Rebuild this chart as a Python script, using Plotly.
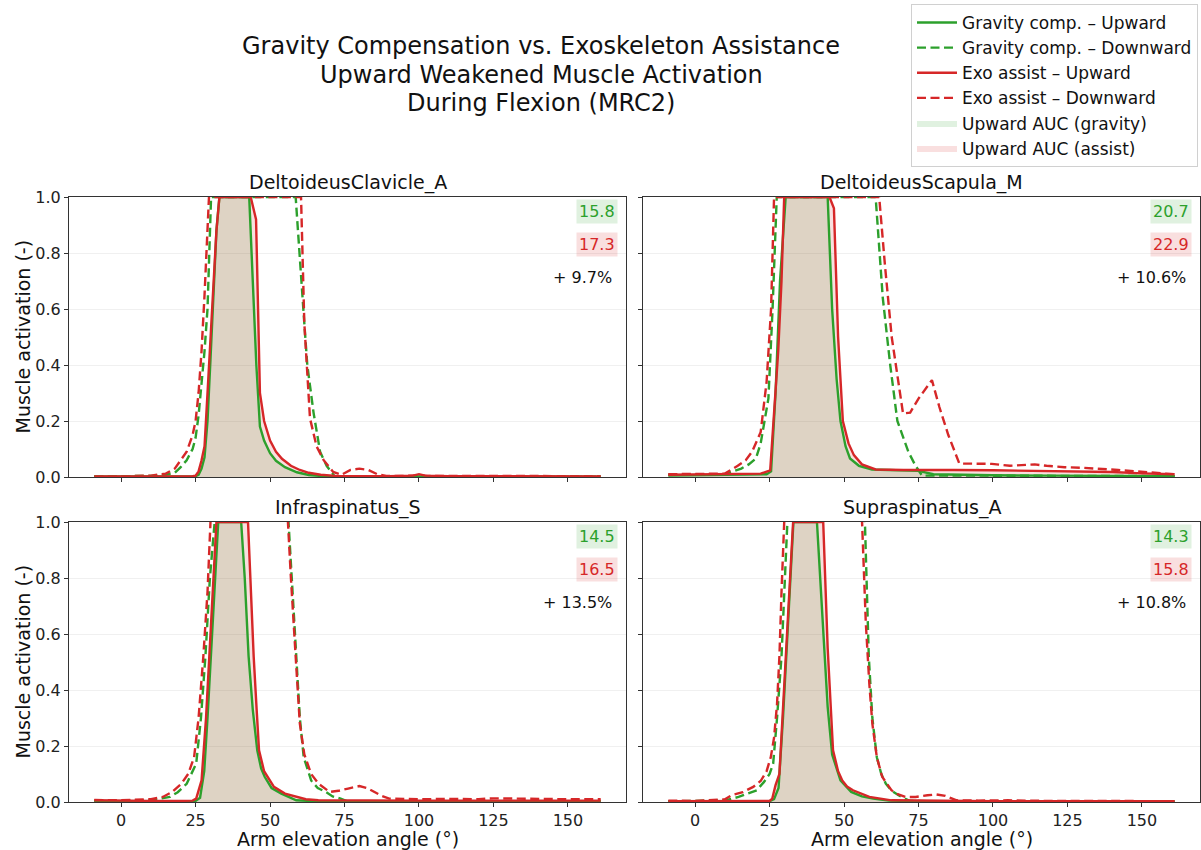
import plotly.graph_objects as go

# ---------------- data ----------------
muscles = ["DeltoideusClavicle_A", "DeltoideusScapula_M", "Infraspinatus_S", "Supraspinatus_A"]
auc_gravity = [15.8, 20.7, 14.5, 14.3]
auc_assist = [17.3, 22.9, 16.5, 15.8]
pct_change = [9.7, 10.6, 13.5, 10.8]

title_lines = ["Gravity Compensation vs. Exoskeleton Assistance",
               "Upward Weakened Muscle Activation",
               "During Flexion (MRC2)"]

x_ticks = [0, 25, 50, 75, 100, 125, 150]
y_ticks = [0.0, 0.2, 0.4, 0.6, 0.8, 1.0]

# DeltoideusClavicle_A
dc_grav_up_x = [-9, 0, 10, 20, 25, 26, 27, 28, 29, 30, 31, 32, 33, 43, 44.2, 45.4, 46.6, 48, 50, 52, 55, 59, 63, 68, 75, 90, 110, 130, 150, 161]
dc_grav_up_y = [0.002, 0.002, 0.002, 0.002, 0.003, 0.008, 0.03, 0.07, 0.2, 0.42, 0.65, 0.88, 1.0, 1.0, 0.7, 0.4, 0.18, 0.13, 0.085, 0.058, 0.035, 0.017, 0.007, 0.003, 0.002, 0.002, 0.002, 0.001, 0.001, 0.001]
dc_asst_up_x = [-9, 0, 10, 20, 24, 25, 26, 27, 28, 29, 30, 31, 32, 33, 43.5, 45.3, 46.6, 48, 50, 52, 54, 57, 60, 63, 67, 72, 80, 90, 98, 100, 102, 110, 130, 150, 161]
dc_asst_up_y = [0.002, 0.002, 0.002, 0.002, 0.003, 0.005, 0.02, 0.06, 0.11, 0.3, 0.5, 0.7, 0.88, 1.0, 1.0, 0.92, 0.3, 0.2, 0.13, 0.09, 0.065, 0.04, 0.025, 0.015, 0.008, 0.004, 0.003, 0.003, 0.005, 0.01, 0.005, 0.003, 0.003, 0.002, 0.002]
dc_grav_dn_x = [-9, 0, 10, 15, 18, 20, 22, 24, 25, 26, 27, 28, 29, 29.5, 30.2, 58.6, 60, 61.3, 62.5, 64.6, 66.8, 69, 71.7, 75, 90, 120, 161]
dc_grav_dn_y = [0.002, 0.002, 0.004, 0.008, 0.015, 0.035, 0.06, 0.1, 0.14, 0.22, 0.33, 0.45, 0.6, 0.8, 1.0, 1.0, 0.8, 0.58, 0.4, 0.23, 0.09, 0.04, 0.002, 0.001, 0.001, 0.001, 0.001]
dc_asst_dn_x = [-9, 0, 10, 15, 18, 20, 22, 24, 25, 26, 27, 28, 29, 29.5, 60.4, 61.5, 63.4, 65.6, 68, 71.2, 74, 77, 80, 83, 86, 89, 95, 100, 103, 110, 120, 140, 161]
dc_asst_dn_y = [0.002, 0.002, 0.005, 0.012, 0.03, 0.06, 0.09, 0.15, 0.2, 0.3, 0.45, 0.65, 0.88, 1.0, 1.0, 0.55, 0.21, 0.11, 0.06, 0.018, 0.008, 0.025, 0.03, 0.025, 0.01, 0.004, 0.004, 0.006, 0.004, 0.004, 0.003, 0.003, 0.003]

# DeltoideusScapula_M
ds_grav_up_x = [-9, 0, 10, 20, 24, 25.5, 27, 28.5, 30.4, 44.5, 46, 47.5, 48.8, 50.5, 52, 55, 59.4, 65, 75, 80, 90, 100, 120, 140, 161]
ds_grav_up_y = [0.005, 0.006, 0.007, 0.008, 0.01, 0.02, 0.3, 0.7, 1.0, 1.0, 0.6, 0.35, 0.2, 0.11, 0.066, 0.04, 0.027, 0.025, 0.022, 0.01, 0.007, 0.006, 0.005, 0.004, 0.003]
ds_asst_up_x = [-9, 0, 10, 20, 22, 25.2, 26.5, 27.9, 29, 29.9, 45.1, 46.6, 48, 49.6, 51.5, 53.3, 56, 60.6, 70, 80, 87, 100, 110, 124, 140, 150, 161]
ds_asst_up_y = [0.008, 0.009, 0.01, 0.011, 0.012, 0.024, 0.22, 0.45, 0.7, 1.0, 1.0, 0.96, 0.5, 0.2, 0.12, 0.078, 0.045, 0.027, 0.025, 0.026, 0.025, 0.024, 0.023, 0.022, 0.018, 0.013, 0.01]
ds_grav_dn_x = [-9, 0, 10, 15.5, 18, 20.4, 22, 24.6, 26, 27.4, 60.6, 63, 65.5, 67.9, 71.6, 74, 76.2, 90, 120, 161]
ds_grav_dn_y = [0.008, 0.008, 0.01, 0.03, 0.045, 0.066, 0.12, 0.28, 0.6, 1.0, 1.0, 0.64, 0.4, 0.2, 0.09, 0.04, 0.005, 0.005, 0.004, 0.003]
ds_asst_dn_x = [-9, 0, 10, 14.3, 17, 19.1, 22, 24, 25.5, 26.5, 61.8, 63.7, 66, 69.8, 72.2, 75, 79.5, 82, 85, 88.7, 95, 99.6, 105.7, 110, 114, 118, 124, 130, 136, 142, 148, 154, 160.6]
ds_asst_dn_y = [0.01, 0.01, 0.012, 0.04, 0.06, 0.09, 0.16, 0.34, 0.6, 1.0, 1.0, 0.76, 0.5, 0.227, 0.23, 0.28, 0.346, 0.25, 0.15, 0.048, 0.048, 0.047, 0.04, 0.042, 0.045, 0.04, 0.035, 0.033, 0.03, 0.025, 0.02, 0.015, 0.01]

# Infraspinatus_S (downward peaks run above the visible 1.0 limit)
is_grav_up_x = [-9, 0, 10, 20, 25, 26.5, 27.9, 29, 30.5, 32.6, 40.3, 41.5, 42.8, 44.2, 45.7, 47, 48.2, 50.5, 53.8, 58.8, 65, 80, 100, 130, 161]
is_grav_up_y = [0.003, 0.003, 0.003, 0.003, 0.004, 0.015, 0.11, 0.3, 0.6, 1.0, 1.0, 0.8, 0.52, 0.33, 0.185, 0.12, 0.09, 0.05, 0.03, 0.006, 0.003, 0.002, 0.002, 0.002, 0.002]
is_asst_up_x = [-9, 0, 10, 20, 24, 25.2, 27, 28.5, 30, 32, 42.6, 43.5, 44.5, 45.5, 46.3, 48, 51.3, 55, 58.8, 62, 66.2, 80, 100, 130, 161]
is_asst_up_y = [0.006, 0.004, 0.004, 0.004, 0.005, 0.012, 0.077, 0.3, 0.6, 1.0, 1.0, 0.75, 0.52, 0.33, 0.185, 0.11, 0.054, 0.03, 0.018, 0.01, 0.006, 0.005, 0.005, 0.005, 0.005]
is_grav_dn_x = [-9, 0, 10, 16.4, 19, 22, 25.2, 26.8, 28.3, 29.8, 31.4, 32.5, 55.2, 56.2, 57.5, 58.8, 60, 61.3, 63.8, 66, 68.7, 71, 73.7, 76, 100, 130, 161]
is_grav_dn_y = [0.004, 0.004, 0.006, 0.018, 0.035, 0.065, 0.137, 0.3, 0.52, 0.8, 1.0, 1.3, 1.3, 1.0, 0.75, 0.52, 0.3, 0.16, 0.077, 0.05, 0.036, 0.02, 0.012, 0.002, 0.002, 0.002, 0.002]
is_asst_dn_x = [-9, 0, 10, 14, 17, 20.2, 22.5, 24.5, 26, 27.6, 29, 30.1, 31.2, 55, 56, 57, 57.8, 59, 60, 61.5, 63.8, 66.3, 70, 73, 76.2, 80, 82.5, 85, 87.5, 90, 100, 110, 120, 125, 130, 135, 140, 150, 161]
is_asst_dn_y = [0.007, 0.006, 0.01, 0.018, 0.035, 0.065, 0.1, 0.16, 0.3, 0.52, 0.75, 1.0, 1.3, 1.3, 1.0, 0.8, 0.64, 0.45, 0.28, 0.17, 0.1, 0.065, 0.036, 0.04, 0.048, 0.057, 0.05, 0.036, 0.022, 0.012, 0.01, 0.011, 0.01, 0.013, 0.012, 0.013, 0.01, 0.01, 0.01]

# Supraspinatus_A (downward peaks run above the visible 1.0 limit)
ss_grav_up_x = [-9, 0, 10, 20, 25, 26.5, 28, 29.5, 31, 33, 40.9, 42.7, 44.5, 46, 48.8, 52.4, 56, 59.8, 65, 80, 100, 130, 161]
ss_grav_up_y = [0.002, 0.002, 0.002, 0.002, 0.003, 0.01, 0.05, 0.3, 0.6, 1.0, 1.0, 0.65, 0.34, 0.17, 0.077, 0.036, 0.02, 0.012, 0.005, 0.002, 0.002, 0.002, 0.002]
ss_asst_up_x = [-9, 0, 10, 20, 25, 25.9, 27, 28.3, 30, 31.5, 32.9, 43, 44.5, 46.3, 48, 49.4, 51, 53, 58.5, 65.9, 80, 100, 130, 161]
ss_asst_up_y = [0.003, 0.003, 0.003, 0.003, 0.004, 0.012, 0.06, 0.1, 0.45, 0.75, 1.0, 1.0, 0.55, 0.185, 0.11, 0.077, 0.055, 0.042, 0.018, 0.006, 0.004, 0.003, 0.003, 0.003]
ss_grav_dn_x = [-9, 0, 10, 14.6, 18, 20.7, 23, 25, 26.2, 27.5, 29, 30, 31.1, 32.2, 56, 57, 58.3, 59.5, 61, 62.5, 64, 66, 68.3, 72, 80, 100, 161]
ss_grav_dn_y = [0.002, 0.003, 0.006, 0.018, 0.03, 0.042, 0.07, 0.1, 0.137, 0.3, 0.52, 0.75, 1.0, 1.3, 1.3, 1.0, 0.52, 0.3, 0.16, 0.1, 0.066, 0.04, 0.024, 0.004, 0.002, 0.002, 0.002]
ss_asst_dn_x = [-9, 0, 10, 12.2, 16, 19.5, 22, 24, 25.4, 26.5, 27.5, 28.3, 29, 29.9, 31, 55, 56.1, 57.3, 58.5, 59.5, 61, 62.8, 65.9, 68, 70.7, 74, 78, 81, 84, 87.8, 95, 105, 118, 130, 161]
ss_asst_dn_y = [0.005, 0.004, 0.01, 0.024, 0.035, 0.054, 0.075, 0.11, 0.16, 0.23, 0.35, 0.52, 0.75, 1.0, 1.3, 1.3, 1.0, 0.64, 0.42, 0.28, 0.16, 0.09, 0.042, 0.028, 0.018, 0.018, 0.024, 0.027, 0.022, 0.006, 0.005, 0.006, 0.004, 0.003, 0.003]

panels = [
    (dc_grav_up_x, dc_grav_up_y, dc_asst_up_x, dc_asst_up_y, dc_grav_dn_x, dc_grav_dn_y, dc_asst_dn_x, dc_asst_dn_y),
    (ds_grav_up_x, ds_grav_up_y, ds_asst_up_x, ds_asst_up_y, ds_grav_dn_x, ds_grav_dn_y, ds_asst_dn_x, ds_asst_dn_y),
    (is_grav_up_x, is_grav_up_y, is_asst_up_x, is_asst_up_y, is_grav_dn_x, is_grav_dn_y, is_asst_dn_x, is_asst_dn_y),
    (ss_grav_up_x, ss_grav_up_y, ss_asst_up_x, ss_asst_up_y, ss_grav_dn_x, ss_grav_dn_y, ss_asst_dn_x, ss_asst_dn_y),
]

# ---------------- style ----------------
GREEN = "#2ca02c"
RED = "#d62728"
GREEN_FILL = "rgba(44,160,44,0.15)"
RED_FILL = "rgba(214,39,40,0.15)"
FONT = "DejaVu Sans"
DASH = "9px,4.5px"
LW = 2.4

# figure geometry (pixels)
W, H = 1201, 850
ML, MR, MT, MB = 69, 1, 197, 48
PW, PH = W - ML - MR, H - MT - MB
x_domains = [[0, 557 / PW], [574 / PW, 1.0]]
y_domains = [[325 / PH, 1.0], [0, 280 / PH]]  # top row, bottom row

fig = go.Figure()

for i, (gux, guy, aux, auy, gdx, gdy, adx, ady) in enumerate(panels):
    xa = "x" if i == 0 else f"x{i+1}"
    ya = "y" if i == 0 else f"y{i+1}"
    first = i == 0
    common = dict(xaxis=xa, yaxis=ya, mode="lines", hoverinfo="skip")
    fig.add_trace(go.Scatter(x=gux, y=guy, fill="tozeroy", fillcolor=GREEN_FILL,
                             line=dict(width=0, color=GREEN_FILL), name="Upward AUC (gravity)",
                             legendrank=5, showlegend=first, **common))
    fig.add_trace(go.Scatter(x=aux, y=auy, fill="tozeroy", fillcolor=RED_FILL,
                             line=dict(width=0, color=RED_FILL), name="Upward AUC (assist)",
                             legendrank=6, showlegend=first, **common))
    fig.add_trace(go.Scatter(x=gdx, y=gdy, line=dict(color=GREEN, width=LW, dash=DASH),
                             name="Gravity comp. – Downward", legendrank=2, showlegend=first, **common))
    fig.add_trace(go.Scatter(x=adx, y=ady, line=dict(color=RED, width=LW, dash=DASH),
                             name="Exo assist – Downward", legendrank=4, showlegend=first, **common))
    fig.add_trace(go.Scatter(x=gux, y=guy, line=dict(color=GREEN, width=LW),
                             name="Gravity comp. – Upward", legendrank=1, showlegend=first, **common))
    fig.add_trace(go.Scatter(x=aux, y=auy, line=dict(color=RED, width=LW),
                             name="Exo assist – Upward", legendrank=3, showlegend=first, **common))

axis_common = dict(showline=True, linecolor="#333333", linewidth=1.2, mirror=True,
                   ticks="outside", ticklen=4, tickwidth=1, tickcolor="#333333",
                   tickfont=dict(family=FONT, size=16, color="#222222"), zeroline=False)

layout_axes = {}
for i in range(4):
    row, col = divmod(i, 2)
    xname = "xaxis" if i == 0 else f"xaxis{i+1}"
    yname = "yaxis" if i == 0 else f"yaxis{i+1}"
    ya = "y" if i == 0 else f"y{i+1}"
    xa = "x" if i == 0 else f"x{i+1}"
    layout_axes[xname] = dict(domain=x_domains[col], anchor=ya, range=[-17.5, 169.5],
                              tickvals=x_ticks, ticktext=[str(v) for v in x_ticks],
                              showticklabels=(row == 1), showgrid=False, **axis_common)
    layout_axes[yname] = dict(domain=y_domains[row], anchor=xa, range=[0, 1],
                              tickvals=y_ticks, ticktext=[f"{v:.1f}" for v in y_ticks],
                              showticklabels=(col == 0), showgrid=True,
                              gridcolor="#f0f0f0", gridwidth=1, **axis_common)

annotations = []
for i, name in enumerate(muscles):
    row, col = divmod(i, 2)
    xd = "x domain" if i == 0 else f"x{i+1} domain"
    yd = "y domain" if i == 0 else f"y{i+1} domain"
    annotations.append(dict(text=name, xref=xd, yref=yd, x=0.5, y=1.0, xanchor="center",
                            yanchor="bottom", yshift=1, showarrow=False,
                            font=dict(family=FONT, size=19, color="#111111")))
    annotations.append(dict(text=f"{auc_gravity[i]:.1f}", xref=xd, yref=yd, x=0.985, y=0.95,
                            xanchor="right", yanchor="middle", showarrow=False,
                            bgcolor=GREEN_FILL, borderpad=2,
                            font=dict(family=FONT, size=16, color=GREEN)))
    annotations.append(dict(text=f"{auc_assist[i]:.1f}", xref=xd, yref=yd, x=0.985, y=0.832,
                            xanchor="right", yanchor="middle", showarrow=False,
                            bgcolor=RED_FILL, borderpad=2,
                            font=dict(family=FONT, size=16, color=RED)))
    annotations.append(dict(text=f"+ {pct_change[i]:.1f}%", xref=xd, yref=yd, x=0.978, y=0.711,
                            xanchor="right", yanchor="middle", showarrow=False,
                            font=dict(family=FONT, size=16, color="#111111")))

# axis titles
for yc in [(y_domains[0][0] + y_domains[0][1]) / 2, (y_domains[1][0] + y_domains[1][1]) / 2]:
    annotations.append(dict(text="Muscle activation (-)", xref="paper", yref="paper",
                            x=(22.5 - ML) / PW, y=yc, textangle=-90, xanchor="center",
                            yanchor="middle", showarrow=False,
                            font=dict(family=FONT, size=19, color="#111111")))
for xd in x_domains:
    annotations.append(dict(text="Arm elevation angle (°)", xref="paper", yref="paper",
                            x=(xd[0] + xd[1]) / 2, y=(802 - 826) / PH, xanchor="center",
                            yanchor="top", showarrow=False,
                            font=dict(family=FONT, size=19, color="#111111")))

# three-line suptitle
for k, (line, yc) in enumerate(zip(title_lines, [46, 75, 103])):
    annotations.append(dict(text=line, xref="paper", yref="paper",
                            x=(541 - ML) / PW, y=(802 - yc) / PH, xanchor="center",
                            yanchor="middle", showarrow=False,
                            font=dict(family=FONT, size=24, color="#111111")))

fig.update_layout(
    width=W, height=H,
    margin=dict(l=ML, r=MR, t=MT, b=MB, pad=0, autoexpand=False),
    paper_bgcolor="white", plot_bgcolor="white",
    font=dict(family=FONT, size=16, color="#111111"),
    legend=dict(xref="container", yref="container", x=1198 / W, y=1 - 4 / H,
                xanchor="right", yanchor="top", traceorder="normal", itemwidth=40,
                bgcolor="white", bordercolor="#d0d0d0", borderwidth=1,
                font=dict(family=FONT, size=17, color="#111111")),
    annotations=annotations,
    showlegend=True,
    **layout_axes,
)

fig.write_html("out.html")
